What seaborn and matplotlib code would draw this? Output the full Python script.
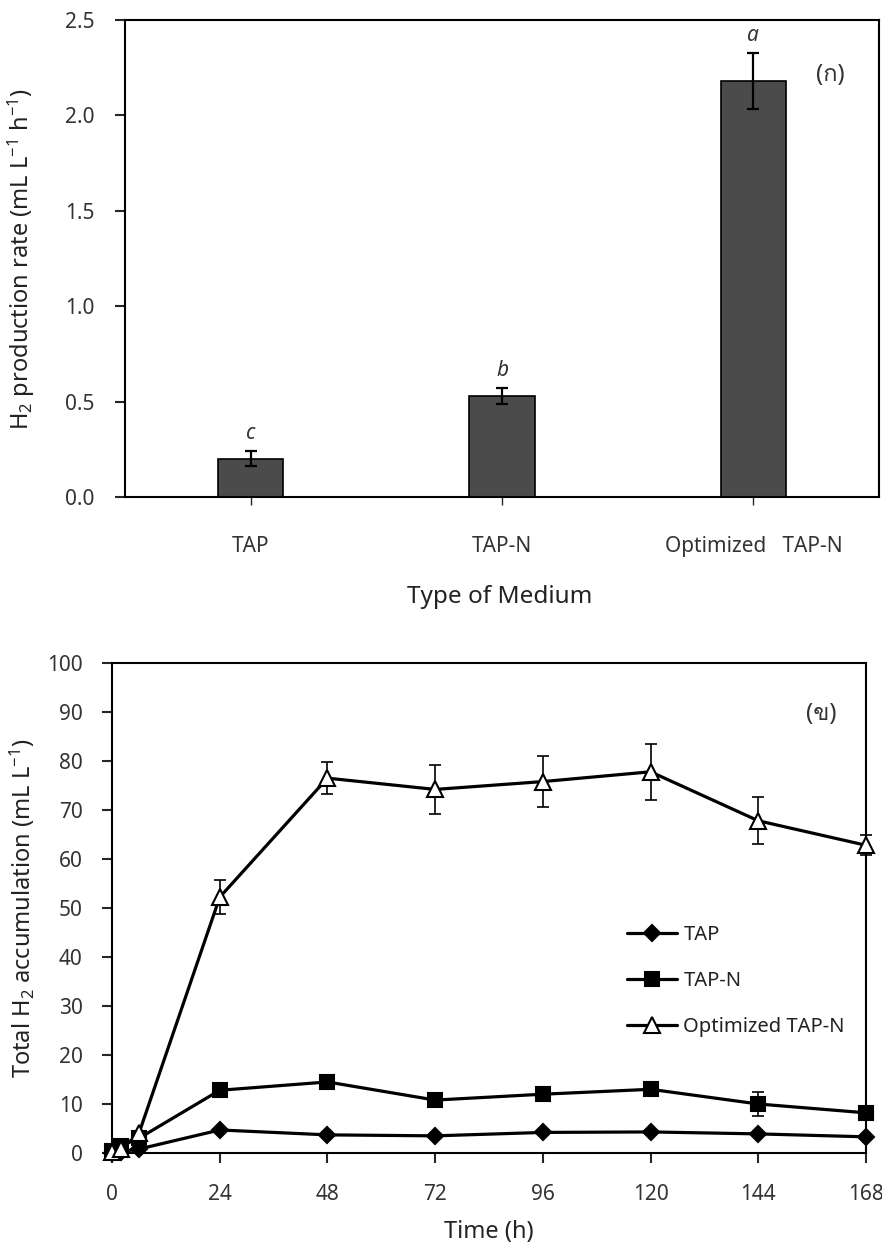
import numpy as np
import pandas as pd
import matplotlib
matplotlib.use("Agg")
import matplotlib.pyplot as plt
import seaborn as sns
from matplotlib import font_manager
from matplotlib.ft2font import FT2Font

# ---- data -------------------------------------------------------------
media = ["TAP", "TAP-N", "Optimized   TAP-N"]
rate = [0.20, 0.53, 2.18]
rate_err = [0.04, 0.04, 0.145]
rate_group = ["c", "b", "a"]

time_h = [0, 2, 6, 24, 48, 72, 96, 120, 144, 168]
acc_tap = [0.0, 0.3, 0.8, 4.7, 3.7, 3.5, 4.2, 4.3, 3.9, 3.3]
acc_tap_err = [0.1, 0.1, 0.2, 0.5, 0.5, 0.4, 0.4, 0.4, 0.4, 0.4]
acc_tapn = [0.5, 1.5, 3.0, 12.8, 14.5, 10.8, 12.0, 13.0, 10.0, 8.2]
acc_tapn_err = [0.2, 0.3, 0.5, 1.0, 1.0, 1.0, 1.0, 1.0, 2.5, 1.0]
acc_opt = [0.3, 0.8, 4.0, 52.2, 76.5, 74.2, 75.8, 77.8, 67.8, 62.8]
acc_opt_err = [0.0, 0.0, 0.5, 3.5, 3.2, 5.0, 5.2, 5.7, 4.8, 2.0]
series_names = ["TAP", "TAP-N", "Optimized TAP-N"]
time_ticks = [0, 24, 48, 72, 96, 120, 144, 168]


def font_with(ch):
    """Return the name of an installed font that has a glyph for ch."""
    for f in font_manager.fontManager.ttflist:
        try:
            if FT2Font(f.fname).get_char_index(ord(ch)):
                return f.name
        except Exception:
            continue
    return None


sns.set_theme(style="ticks")
thai = font_with("\u0e01")
families = ["Noto Sans"] + ([thai] if thai else []) + ["DejaVu Sans"]
plt.rcParams["font.family"] = families
plt.rcParams["mathtext.fontset"] = "custom"
plt.rcParams["mathtext.rm"] = "Noto Sans"
plt.rcParams["mathtext.it"] = "Noto Sans:italic"
plt.rcParams["axes.linewidth"] = 1.5
plt.rcParams["text.color"] = "#222222"

fig = plt.figure(figsize=(8.82, 12.5), dpi=100)
ax1 = fig.add_axes([125 / 882, 1 - 497 / 1250, 754 / 882, 477 / 1250])
ax2 = fig.add_axes([112 / 882, 1 - 1153 / 1250, 754 / 882, 490 / 1250])

# ---- (a) production rate bars ----------------------------------------
bar_df = pd.DataFrame({"medium": media, "rate": rate})
sns.barplot(data=bar_df, x="medium", y="rate", color="#4b4b4b",
            edgecolor="black", linewidth=1.2, width=0.26, saturation=1,
            errorbar=None, ax=ax1)
xpos = np.arange(len(media))
ax1.errorbar(xpos, rate, yerr=rate_err, fmt="none", ecolor="black",
             elinewidth=1.6, capsize=4, capthick=1.6, zorder=5)
for x, v, e, g in zip(xpos, rate, rate_err, rate_group):
    ax1.annotate(g, (x, v + e), xytext=(0, 13), textcoords="offset points",
                 ha="center", va="center", fontsize=15, style="italic",
                 color="#333333")
ax1.text(0.935, 0.885, "(\u0e01)", transform=ax1.transAxes, fontsize=17,
         ha="center", va="center", color="#333333")
ax1.set_xlim(-0.5, 2.5)
ax1.set_ylim(0, 2.5)
ax1.set_yticks(np.arange(0, 2.51, 0.5))
ax1.set_yticklabels([f"{t:.1f}" for t in np.arange(0, 2.51, 0.5)])
ax1.tick_params(axis="y", direction="out", length=7, width=1.5, pad=15,
                labelsize=15, labelcolor="#333333")
ax1.tick_params(axis="x", direction="out", length=6, width=1.0, pad=22,
                labelsize=15, labelcolor="#333333")
ax1.set_xlabel("Type of Medium", fontsize=17.5, color="#222222")
ax1.set_ylabel(r"H$_2$ production rate (mL L$^{-1}$ h$^{-1}$)", fontsize=17,
               color="#222222")
ax1.xaxis.set_label_coords(0.497, -0.21)
ax1.xaxis.label.set_va("center")
ax1.yaxis.set_label_coords(-0.137, 0.5)
ax1.yaxis.label.set_va("center")

# ---- (b) cumulative hydrogen -----------------------------------------
styles = [
    (acc_tap, acc_tap_err, "D", "black", 8),
    (acc_tapn, acc_tapn_err, "s", "black", 10.5),
    (acc_opt, acc_opt_err, "^", "white", 11),
]
for name, (vals, errs, mk, face, ms) in zip(series_names, styles):
    ax2.errorbar(time_h, vals, yerr=errs, fmt="none", ecolor="black",
                 elinewidth=1.2, capsize=4, capthick=1.2, zorder=2,
                 clip_on=False)
    sns.lineplot(x=time_h, y=vals, ax=ax2, color="black", linewidth=2.3,
                 marker=mk, markersize=ms, markerfacecolor=face,
                 markeredgecolor="black", markeredgewidth=1.5,
                 label=name, clip_on=False, zorder=3)

ax2.set_xlim(0, 168)
ax2.set_ylim(0, 100)
ax2.set_xticks(time_ticks)
ax2.set_yticks(np.arange(0, 101, 10))
ax2.tick_params(axis="both", direction="out", length=7, width=1.5,
                labelsize=15, labelcolor="#333333")
ax2.tick_params(axis="x", pad=15)
ax2.tick_params(axis="y", pad=14)
ax2.set_xlabel("Time (h)", fontsize=17, fontweight="semibold",
               color="#222222")
ax2.set_ylabel(r"Total H$_2$ accumulation (mL L$^{-1}$)", fontsize=17,
               color="#222222")
ax2.xaxis.set_label_coords(0.5, -0.161)
ax2.xaxis.label.set_va("center")
ax2.yaxis.set_label_coords(-0.119, 0.5)
ax2.yaxis.label.set_va("center")
ax2.text(0.94, 0.895, "(\u0e02)", transform=ax2.transAxes, fontsize=17,
         ha="center", va="center", color="#333333")
ax2.legend(loc="upper left", bbox_to_anchor=(0.683, 0.466), frameon=False,
           fontsize=14.5, handlelength=2.5, handletextpad=0.3,
           labelspacing=1.3, borderpad=0, borderaxespad=0)

for ax in (ax1, ax2):
    for s in ax.spines.values():
        s.set_visible(True)
        s.set_color("black")
        s.set_linewidth(1.5)

fig.savefig("out.png", dpi=100, facecolor="white")
